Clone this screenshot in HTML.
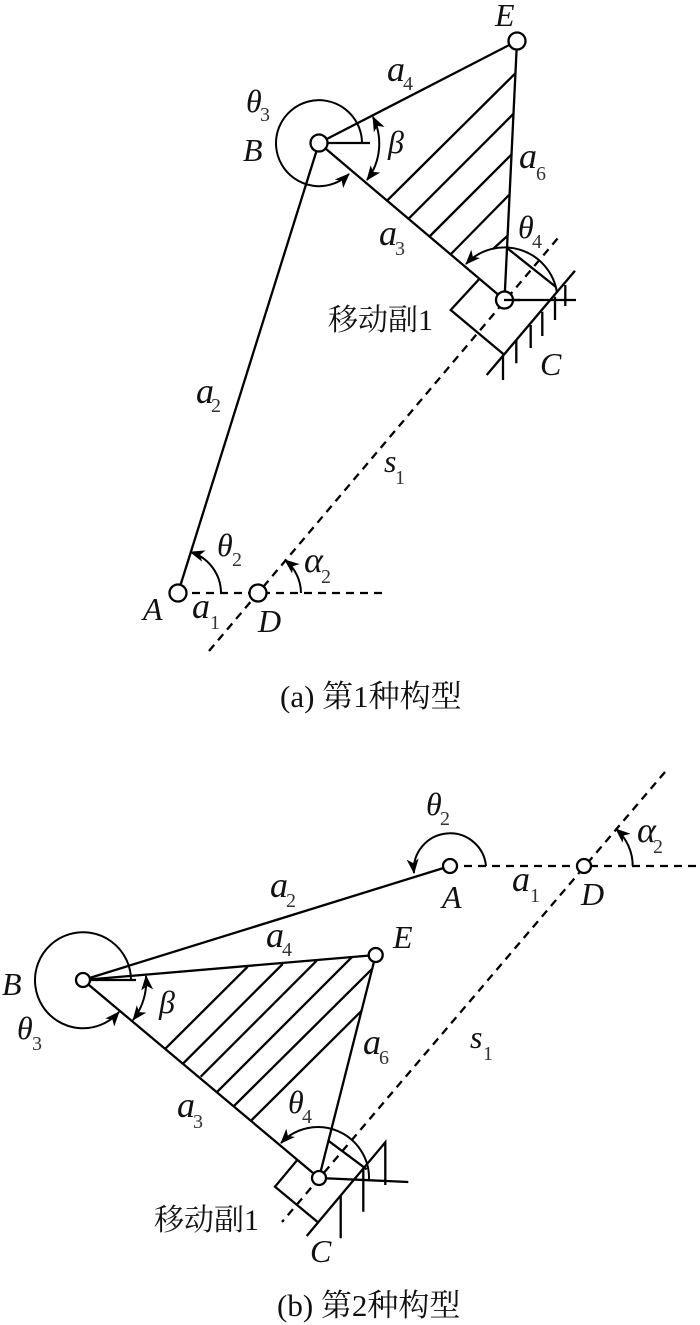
<!DOCTYPE html>
<html>
<head>
<meta charset="utf-8">
<style>
html,body{margin:0;padding:0;background:#fff;width:700px;height:1325px;overflow:hidden}
svg{display:block}
.l{fill:none;stroke:#000;stroke-width:2.3}
.t{stroke-width:2}
.d{fill:none;stroke:#000;stroke-width:2.3;stroke-dasharray:8 6}
.c{fill:#fff;stroke:#000;stroke-width:2.3}
.i{font:italic 32px "Liberation Serif",serif;fill:#111}
.a{font:italic 36px "Liberation Serif",serif;fill:#111}
.s{font:20px "Liberation Serif",serif;fill:#333}
.z{font:30px "Liberation Serif","Noto Serif CJK SC",serif;fill:#111}
.y{font:31px "Liberation Serif","Noto Serif CJK SC",serif;fill:#111}
</style>
</head>
<body>
<svg width="700" height="1325" viewBox="0 0 700 1325" xmlns="http://www.w3.org/2000/svg">
<defs>
<marker id="a" markerUnits="userSpaceOnUse" markerWidth="18" markerHeight="14" refX="14" refY="6" orient="auto-start-reverse" viewBox="0 0 18 12">
<path d="M0,0 L15,6 L0,12 L4,6 Z" fill="#000"/>
</marker>
</defs>

<!-- Figure (a) -->
<path class="d" d="M178,593 H384"/>
<path class="d" d="M209,651 L558,238"/>
<path class="l" d="M178,593 L319,143"/>
<path class="l" d="M319,143 L504.5,300"/>
<path class="l" d="M319,143 L517,41"/>
<path class="l" d="M517,41 L504.5,300"/>
<path class="l" d="M319,143 H370"/>
<path class="l" d="M387.7,200 L516,72.7 M409,218.3 L513.3,114 M430,236 L511,155 M451,254 L509,195 M493,249 L507.3,236"/>
<path class="l" d="M507,248 L556,287"/>
<path class="l" d="M479,279.3 L450.7,310 L503.3,354"/>
<path class="l" d="M486.7,375 L575,270.7"/>
<path class="l" d="M504,300 H576"/>
<path class="l" d="M503,355 V380 M516.3,340 V363.3 M530.7,325 V348 M542.3,311.7 V336 M555,296.7 V320 M565.3,285 V306"/>
<path class="l t" marker-end="url(#a)" d="M362,143 A43,43 0 1 0 349,174"/>
<path class="l t" marker-start="url(#a)" marker-end="url(#a)" d="M373,117 A60,60 0 0 1 367,180"/>
<path class="l t" marker-end="url(#a)" d="M557,293 A53,53 0 0 0 466,264"/>
<path class="l t" marker-end="url(#a)" d="M221,593 A43,43 0 0 0 190.5,552"/>
<path class="l t" marker-end="url(#a)" d="M301,593 A43,43 0 0 0 285,560"/>
<circle class="c" cx="517" cy="41" r="8.5"/>
<circle class="c" cx="319" cy="143" r="8.5"/>
<circle class="c" cx="504.5" cy="300" r="8.5"/>
<path class="l" d="M504,300 H520"/>
<circle class="c" cx="178" cy="593" r="8.5"/>
<circle class="c" cx="258" cy="593" r="8.5"/>

<text class="i" x="495" y="26">E</text>
<text class="a" x="387" y="81">a</text><text class="s" x="403" y="90">4</text>
<text class="i" x="246" y="112">θ</text><text class="s" x="260" y="121">3</text>
<text class="i" x="243" y="161">B</text>
<text class="i" x="388" y="153">β</text>
<text class="a" x="519" y="168">a</text><text class="s" x="536" y="180">6</text>
<text class="a" x="379" y="245">a</text><text class="s" x="395" y="255">3</text>
<text class="i" x="518" y="238">θ</text><text class="s" x="532" y="248">4</text>
<text class="i" x="540" y="375">C</text>
<text class="z" x="328" y="330">移动副1</text>
<text class="a" x="196" y="403">a</text><text class="s" x="211" y="412">2</text>
<text class="i" x="384" y="472">s</text><text class="s" x="395" y="484">1</text>
<text class="i" x="217" y="556">θ</text><text class="s" x="232" y="566">2</text>
<text class="a" x="304" y="572">α</text><text class="s" x="321" y="583">2</text>
<text class="i" x="143" y="620">A</text>
<text class="a" x="192" y="618">a</text><text class="s" x="210" y="629">1</text>
<text class="i" x="258" y="632">D</text>
<text class="y" x="280" y="707">(a) 第1种构型</text>

<!-- Figure (b) -->
<path class="d" d="M450,866 H697"/>
<path class="d" d="M665,772 L282,1222"/>
<path class="l" d="M450,866 L83,980"/>
<path class="l" d="M83,980 L319,1178"/>
<path class="l" d="M83,980 L375.7,955"/>
<path class="l" d="M375.7,955 L319,1178"/>
<path class="l" d="M83,980 H136"/>
<path class="l" d="M165.7,1048.3 L247.7,966.7 M183.3,1063.3 L282.7,964 M200.7,1076.7 L316.7,960.7 M217.3,1091.7 L351.7,957.3 M234.3,1105.7 L372.7,968.3 M251.7,1120 L361.7,1010.7"/>
<path class="l" d="M328.3,1140.7 L366.7,1169.3"/>
<path class="l" d="M296.7,1160.7 L275,1186.7 L317.3,1221.7"/>
<path class="l" d="M306.7,1236 L385.3,1142.3 V1185"/>
<path class="l" d="M319,1178 L408.3,1182"/>
<path class="l" d="M340.7,1196 V1238.3 M363.3,1168.3 V1211.7"/>
<path class="l t" marker-end="url(#a)" d="M486,866 A36,36 0 1 0 414,873"/>
<path class="l t" marker-end="url(#a)" d="M131,980 A48,48 0 1 0 119,1012"/>
<path class="l t" marker-start="url(#a)" marker-end="url(#a)" d="M146,976 A63,63 0 0 1 133,1020"/>
<path class="l t" marker-end="url(#a)" d="M369,1180 A51,51 0 0 0 281,1143"/>
<path class="l t" marker-end="url(#a)" d="M632.7,866 A49,49 0 0 0 616,829"/>
<circle class="c" cx="450" cy="866" r="7"/>
<circle class="c" cx="584" cy="866" r="7"/>
<circle class="c" cx="83" cy="980" r="7"/>
<circle class="c" cx="375.7" cy="955" r="7"/>
<circle class="c" cx="319" cy="1178" r="7"/>

<text class="i" x="426" y="815">θ</text><text class="s" x="440" y="825">2</text>
<text class="a" x="637" y="842">α</text><text class="s" x="653" y="853">2</text>
<text class="a" x="512" y="891">a</text><text class="s" x="530" y="902">1</text>
<text class="i" x="442" y="908">A</text>
<text class="i" x="581" y="905">D</text>
<text class="a" x="270" y="897">a</text><text class="s" x="286" y="907">2</text>
<text class="a" x="266" y="947">a</text><text class="s" x="282" y="956">4</text>
<text class="i" x="393" y="948">E</text>
<text class="i" x="2" y="995">B</text>
<text class="i" x="17" y="1039">θ</text><text class="s" x="32" y="1050">3</text>
<text class="i" x="159" y="1013">β</text>
<text class="a" x="363" y="1054">a</text><text class="s" x="379" y="1064">6</text>
<text class="i" x="470" y="1048">s</text><text class="s" x="483" y="1060">1</text>
<text class="a" x="177" y="1117">a</text><text class="s" x="193" y="1128">3</text>
<text class="i" x="288" y="1113">θ</text><text class="s" x="302" y="1123">4</text>
<text class="z" x="154" y="1230">移动副1</text>
<text class="i" x="310" y="1262">C</text>
<text class="y" x="277" y="1316">(b) 第2种构型</text>
</svg>
</body>
</html>
